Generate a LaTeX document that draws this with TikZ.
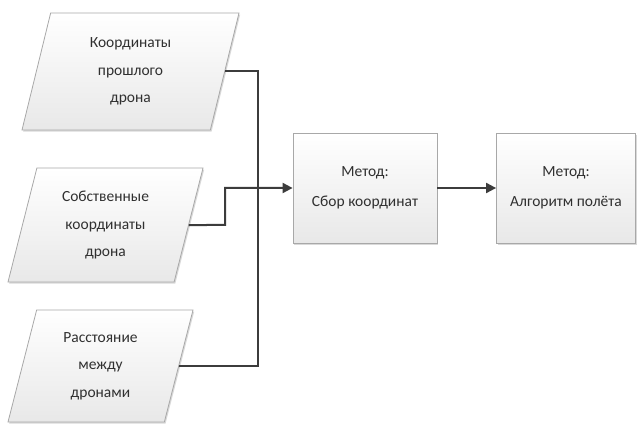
\documentclass[tikz,border=0pt]{standalone}
\usepackage{fontspec}
\setmainfont{Carlito}
\usetikzlibrary{shapes.geometric,arrows.meta,shadows}

\definecolor{edge}{HTML}{A8A8A8}
\definecolor{wire}{HTML}{3C3C3C}
\definecolor{ink}{HTML}{303030}

\tikzset{
  blockbase/.style={draw=edge, line width=0.8pt, top color=white, bottom color=black!9,
    text=ink, align=center, inner sep=0pt,
    font=\fontsize{15.5}{27.5}\selectfont,
    drop shadow={shadow xshift=1.2pt, shadow yshift=-1.6pt, opacity=0.25, fill=black!60}},
  datablock/.style={blockbase, trapezium, trapezium left angle=67, trapezium right angle=113,
    trapezium stretches body},
  methodblock/.style={blockbase, rectangle, minimum height=110pt,
    font=\fontsize{15.5}{30}\selectfont},
  wireline/.style={draw=wire, line width=2pt},
  flowarrow/.style={wireline, -{Triangle[length=10pt,width=10pt]}}
}

\begin{document}
\begin{tikzpicture}[x=1pt, y=-1pt]
  \useasboundingbox (0,0) rectangle (638,425);

  % input data
  \node[datablock, minimum width=217pt, minimum height=117pt] (p1) at (130.5,71.5)
    {Координаты\\прошлого\\дрона};
  \node[datablock, minimum width=195pt, minimum height=114pt] (p2) at (105.5,225)
    {Собственные\\координаты\\дрона};
  \node[datablock, minimum width=185pt, minimum height=112pt] (p3) at (100.5,366)
    {Расстояние\\между\\дронами};

  % processing steps
  \node[methodblock, minimum width=144pt] (m1) at (365,188) {Метод:\\Сбор координат};
  \node[methodblock, minimum width=139pt] (m2) at (566,188) {Метод:\\Алгоритм полёта};

  % routing points
  \coordinate (bus) at (258,188);
  \coordinate (elbow) at (225,225);

  % connectors
  \draw[wireline] (p1.east) -| (bus);
  \draw[wireline] (p3.east) -| (bus);
  \draw[flowarrow] (p2.east) -- (elbow) |- (m1.west);
  \draw[flowarrow] (m1.east) -- (m2.west);
\end{tikzpicture}
\end{document}
